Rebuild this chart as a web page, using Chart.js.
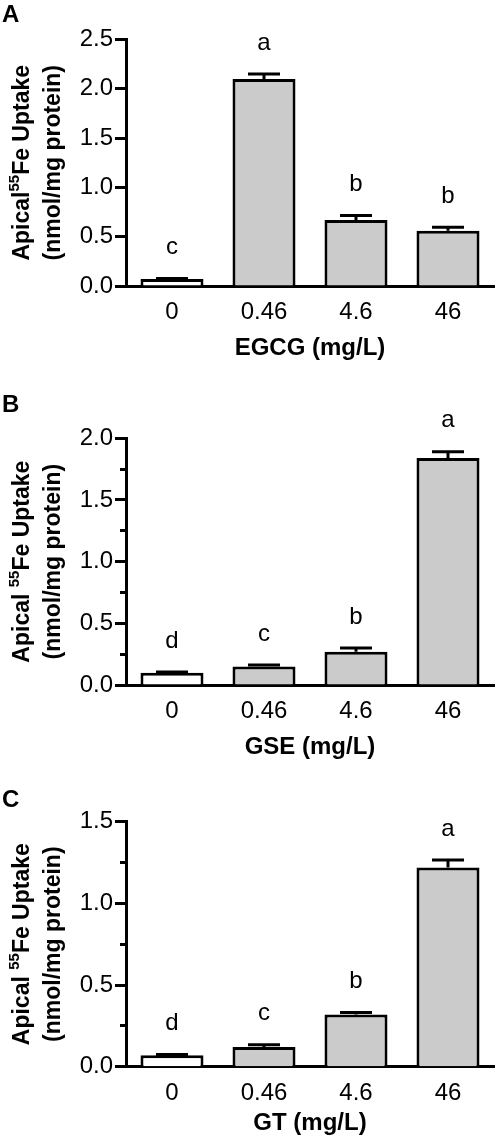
<!DOCTYPE html>
<html>
<head>
<meta charset="utf-8">
<script src="https://cdn.jsdelivr.net/npm/chart.js@4.4.1/dist/chart.umd.min.js"></script>
<style>
  body { margin: 0; background: #fff; width: 498px; height: 1147px; position: relative; overflow: hidden; }
  canvas { position: absolute; left: 0; }
</style>
</head>
<body>
<canvas id="chartA" width="498" height="375" style="top:0px;width:498px;height:375px"></canvas>
<canvas id="chartB" width="498" height="385" style="top:375px;width:498px;height:385px"></canvas>
<canvas id="chartC" width="498" height="387" style="top:760px;width:498px;height:387px"></canvas>
<script>
// Concentrations on the x axis (same for all three panels)
const doses = ['0', '0.46', '4.6', '46'];

// Panel A - EGCG
const egcgValues = [0.07, 2.10, 0.67, 0.56];
const egcgErrors = [0.005, 0.05, 0.045, 0.035];
const egcgLetters = ['c', 'a', 'b', 'b'];

// Panel B - GSE
const gseValues = [0.10, 0.15, 0.27, 1.84];
const gseErrors = [0.005, 0.012, 0.03, 0.05];
const gseLetters = ['d', 'c', 'b', 'a'];

// Panel C - GT
const gtValues = [0.07, 0.12, 0.32, 1.22];
const gtErrors = [0.005, 0.015, 0.012, 0.045];
const gtLetters = ['d', 'c', 'b', 'a'];

const fillColors = ['#ffffff', '#cbcbcb', '#cbcbcb', '#cbcbcb'];
const FONT = '"Liberation Sans", Arial, sans-serif';

// Draws error bars, significance letters, axis titles and the panel letter
const annotate = {
    id: 'annotate',
    afterDatasetsDraw(chart, args, opts) {
        const ctx = chart.ctx;
        const y = chart.scales.y;
        const area = chart.chartArea;
        const meta = chart.getDatasetMeta(0);
        ctx.save();
        ctx.strokeStyle = '#000';
        ctx.fillStyle = '#000';
        ctx.lineWidth = 3;
        ctx.font = '24px ' + FONT;
        ctx.textAlign = 'center';
        ctx.textBaseline = 'middle';
        meta.data.forEach((bar, i) => {
            const v = opts.values[i];
            const top = y.getPixelForValue(v);
            const cap = y.getPixelForValue(v + opts.errors[i]);
            ctx.beginPath();
            ctx.moveTo(bar.x, top);
            ctx.lineTo(bar.x, cap);
            ctx.moveTo(bar.x - 16, cap);
            ctx.lineTo(bar.x + 16, cap);
            ctx.stroke();
            ctx.fillText(opts.letters[i], bar.x, cap - 31);
        });

        // x title
        ctx.font = 'bold 24px ' + FONT;
        ctx.fillText(opts.xTitle, (area.left + area.right) / 2, area.bottom + opts.xTitleGap);

        // panel letter
        ctx.textAlign = 'left';
        ctx.fillText(opts.panel, 2, opts.panelY);

        // y title, two rotated lines, first one with superscript 55
        const cy = (area.top + area.bottom) / 2;
        ctx.translate(23, cy);
        ctx.rotate(-Math.PI / 2);
        const big = 'bold 23px ' + FONT;
        const small = 'bold 15px ' + FONT;
        const [p1, sup, p2] = opts.yTitle;
        ctx.font = big;
        const w1 = ctx.measureText(p1).width;
        const w3 = ctx.measureText(p2).width;
        ctx.font = small;
        const w2 = ctx.measureText(sup).width;
        const x = -(w1 + w2 + w3) / 2;
        ctx.font = big;
        ctx.fillText(p1, x, 0);
        ctx.font = small;
        ctx.fillText(sup, x + w1, -8);
        ctx.font = big;
        ctx.fillText(p2, x + w1 + w2, 0);
        ctx.textAlign = 'center';
        ctx.fillText('(nmol/mg protein)', 0, 31);
        ctx.restore();
    }
};

function isMajor(v) {
    return Math.abs(v * 2 - Math.round(v * 2)) < 1e-6;
}

function makeChart(id, values, errors, letters, yMax, step, xTitle, yTitle, panel, panelY, topPad, bottomY, xTitleGap) {
    const canvas = document.getElementById(id);
    const H = canvas.height;
    return new Chart(canvas, {
        type: 'bar',
        data: {
            labels: doses,
            datasets: [{
                data: values,
                backgroundColor: fillColors,
                borderColor: '#000',
                borderWidth: 3,
                barPercentage: 0.685,
                categoryPercentage: 1
            }]
        },
        options: {
            responsive: false,
            animation: false,
            layout: { padding: { top: topPad, right: 4, bottom: 0, left: 0 } },
            plugins: {
                legend: { display: false },
                tooltip: { enabled: false },
                annotate: {
                    values: values, errors: errors, letters: letters,
                    xTitle: xTitle, yTitle: yTitle, panel: panel, panelY: panelY,
                    xTitleGap: xTitleGap
                }
            },
            scales: {
                x: {
                    offset: true,
                    grid: { display: false, drawTicks: false },
                    border: { display: true, color: '#000', width: 3 },
                    ticks: { color: '#000', font: { family: FONT, size: 24 }, padding: 12, maxRotation: 0 },
                    afterFit: s => { s.height = H - bottomY; }
                },
                y: {
                    min: 0,
                    max: yMax,
                    border: { display: true, color: '#000', width: 3 },
                    grid: {
                        drawOnChartArea: false,
                        drawTicks: true,
                        tickLength: 11,
                        tickWidth: 3,
                        tickColor: '#000',
                        tickBorderDash: c => (c.tick && !isMajor(c.tick.value)) ? [6, 5] : [],
                        tickBorderDashOffset: c => (c.tick && !isMajor(c.tick.value)) ? 6 : 0
                    },
                    ticks: {
                        stepSize: step,
                        autoSkip: false,
                        color: '#000',
                        padding: 2,
                        font: { family: FONT, size: 24 },
                        callback: v => isMajor(v) ? v.toFixed(1) : ''
                    },
                    afterFit: s => { s.width = 126; }
                }
            }
        },
        plugins: [annotate]
    });
}

makeChart('chartA', egcgValues, egcgErrors, egcgLetters, 2.5, 0.5, 'EGCG (mg/L)',
    ['Apical', '55', 'Fe Uptake'], 'A', 15, 39.5, 286, 62);
makeChart('chartB', gseValues, gseErrors, gseLetters, 2.0, 0.25, 'GSE (mg/L)',
    ['Apical ', '55', 'Fe Uptake'], 'B', 30, 63.3, 310, 62);
makeChart('chartC', gtValues, gtErrors, gtLetters, 1.5, 0.25, 'GT (mg/L)',
    ['Apical ', '55', 'Fe Uptake'], 'C', 40, 61.7, 306.7, 57);
</script>
</body>
</html>
